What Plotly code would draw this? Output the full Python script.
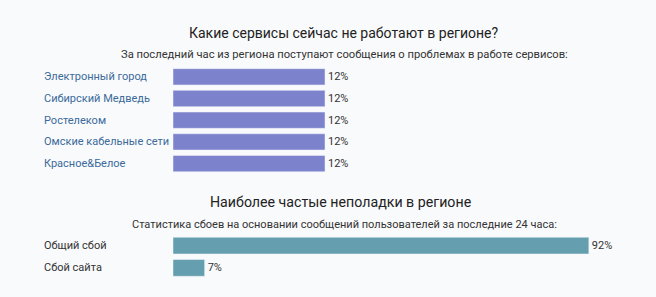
import plotly.graph_objects as go

W, H = 656, 297

services = ["Электронный город", "Сибирский Медведь", "Ростелеком", "Омские кабельные сети", "Красное&Белое"]
service_pct = [12, 12, 12, 12, 12]

issues = ["Общий сбой", "Сбой сайта"]
issue_pct = [92, 7]

title1 = "Какие сервисы сейчас не работают в регионе?"
sub1 = "За последний час из региона поступают сообщения о проблемах в работе сервисов:"
title2 = "Наиболее частые неполадки в регионе"
sub2 = "Статистика сбоев на основании сообщений пользователей за последние 24 часа:"

FONT = "Roboto"
x0, x1 = 173 / W, 625 / W

def py(px):
    return 1 - px / H

fig = go.Figure()
fig.add_trace(go.Bar(
    y=services, x=service_pct, orientation="h", xaxis="x", yaxis="y",
    marker=dict(color="#7c83cc", line=dict(color="#f0f1fa", width=0.5)),
    text=[f"{v}%" for v in service_pct], textposition="outside",
    textfont=dict(family=FONT, size=11, color="#333333"),
    cliponaxis=False, hoverinfo="skip",
))
fig.add_trace(go.Bar(
    y=issues, x=issue_pct, orientation="h", xaxis="x2", yaxis="y2",
    marker=dict(color="#659eae", line=dict(color="#eef4f6", width=0.5)),
    text=[f"{v}%" for v in issue_pct], textposition="outside",
    textfont=dict(family=FONT, size=11, color="#333333"),
    cliponaxis=False, hoverinfo="skip",
))

top_c0, top_step = 76.8, 21.7
bot_c0, bot_step = 245.6, 22.3

ann = []
for s in services:
    ann.append(dict(x=42 / W, xref="paper", y=s, yref="y", text=s, showarrow=False,
                    xanchor="left", yanchor="middle",
                    font=dict(family=FONT, size=11, color="#3b6a9b")))
for s in issues:
    ann.append(dict(x=42 / W, xref="paper", y=s, yref="y2", text=s, showarrow=False,
                    xanchor="left", yanchor="middle",
                    font=dict(family=FONT, size=11, color="#333333")))
ann += [
    dict(x=343 / W, y=py(33), xref="paper", yref="paper", text=title1, showarrow=False,
         xanchor="center", yanchor="middle", font=dict(family=FONT, size=14, color="#222222")),
    dict(x=344 / W, y=py(55), xref="paper", yref="paper", text=sub1, showarrow=False,
         xanchor="center", yanchor="middle", font=dict(family=FONT, size=11.2, color="#333333")),
    dict(x=340 / W, y=py(202), xref="paper", yref="paper", text=title2, showarrow=False,
         xanchor="center", yanchor="middle", font=dict(family=FONT, size=14.2, color="#222222")),
    dict(x=344 / W, y=py(224), xref="paper", yref="paper", text=sub2, showarrow=False,
         xanchor="center", yanchor="middle", font=dict(family=FONT, size=11, color="#333333")),
]

fig.update_layout(
    width=W, height=H, margin=dict(l=0, r=0, t=0, b=0),
    paper_bgcolor="#f9fafc", plot_bgcolor="#f9fafc",
    showlegend=False, bargap=0.25,
    xaxis=dict(domain=[x0, x1], range=[0, 12 * 452 / 152], visible=False, fixedrange=True),
    yaxis=dict(domain=[py(top_c0 + 4 * top_step + top_step / 2), py(top_c0 - top_step / 2)],
               autorange="reversed", visible=False, anchor="x", fixedrange=True),
    xaxis2=dict(domain=[x0, x1], range=[0, 100], visible=False, anchor="y2", fixedrange=True),
    yaxis2=dict(domain=[py(bot_c0 + bot_step + bot_step / 2), py(bot_c0 - bot_step / 2)],
                autorange="reversed", visible=False, anchor="x2", fixedrange=True),
    annotations=ann,
)

fig.write_html("out.html", config={"displayModeBar": False})
